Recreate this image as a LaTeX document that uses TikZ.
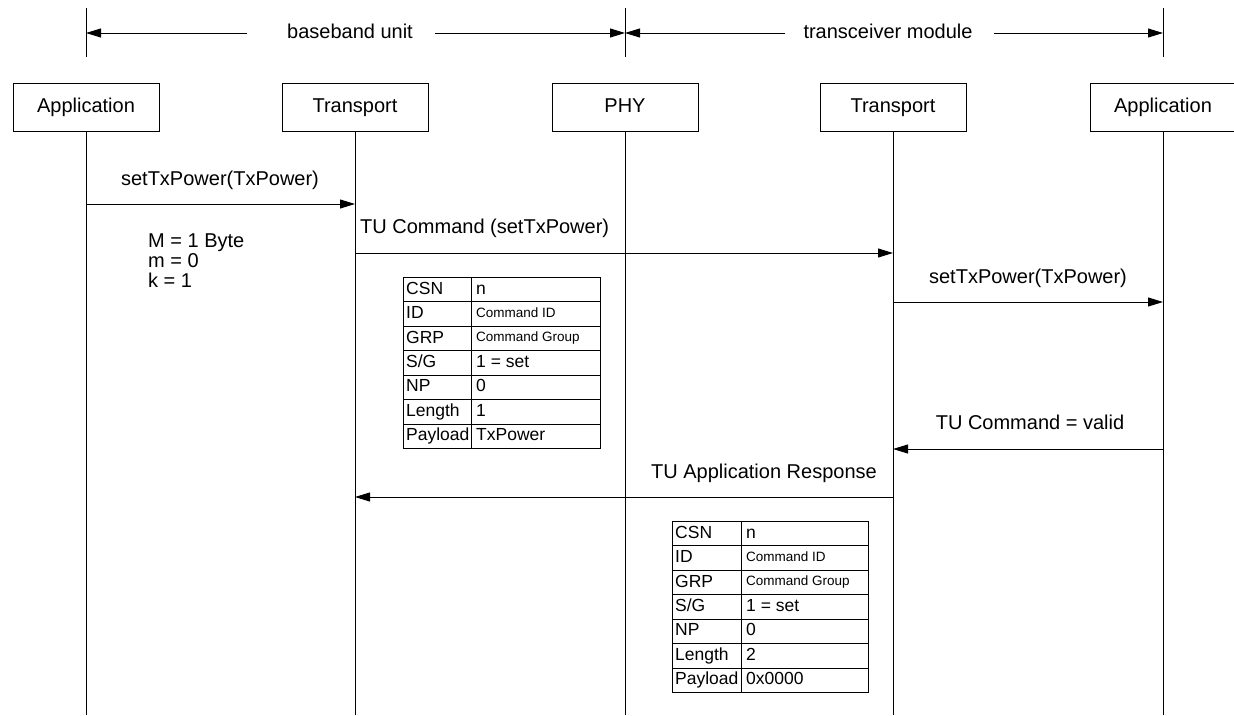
\documentclass[tikz,border=0pt]{standalone}
\usepackage{fontspec}
\setmainfont{Liberation Sans}
\usetikzlibrary{arrows.meta}
\newcommand\sgfield{S/G}
\begin{document}
\begin{tikzpicture}[x=1pt,y=-1pt,
  every node/.style={font=\fontsize{20}{24}\selectfont},
  lane/.style={draw, line width=1pt, minimum width=146pt, minimum height=48pt, inner sep=0pt,
    text height=14.5pt, text depth=4pt},
  life/.style={line width=1pt},
  msg/.style={line width=1pt, -{Triangle[length=15pt,width=9pt]}},
  tick/.style={line width=1pt},
  lbl/.style={inner sep=0pt, text height=14.5pt, text depth=4pt},
  cellA/.style={draw, line width=0.9pt, anchor=north west, minimum height=24.43pt, inner sep=0pt},
  celltxt/.style={anchor=west, inner sep=0pt},
  tbig/.style={font=\fontsize{17.5}{20}\selectfont, text height=12.6pt, text depth=3.6pt},
  tsmall/.style={font=\fontsize{13.5}{16}\selectfont, text height=9.7pt, text depth=2.8pt}
]
\useasboundingbox (0,0) rectangle (1234,715);

% domain spans along the top
\coordinate (tA1) at (86,8);    \coordinate (tA2) at (86,57);
\coordinate (tB1) at (625,8);   \coordinate (tB2) at (625,57);
\coordinate (tC1) at (1163,8);  \coordinate (tC2) at (1163,57);
\draw[tick] (tA1) -- (tA2);
\draw[tick] (tB1) -- (tB2);
\draw[tick] (tC1) -- (tC2);
\coordinate (sA) at (86,33);
\coordinate (sB) at (625,33);
\coordinate (sC) at (1163,33);
\node[lbl] (bbu) at (350,33) {baseband unit};
\node[lbl] (trm) at (888,33) {transceiver module};
\draw[msg] ([xshift=-40pt]bbu.west) -- (sA);
\draw[msg] ([xshift=22pt]bbu.east) -- (sB);
\draw[msg] ([xshift=-18pt]trm.west) -- (sB);
\draw[msg] ([xshift=21pt]trm.east) -- (sC);

% participants
\node[lane] (appL) at (86,107)   {Application};
\node[lane] (trL)  at (355,107)  {Transport};
\node[lane] (phy)  at (625,107)  {PHY};
\node[lane] (trR)  at (893,107)  {Transport};
\node[lane] (appR) at (1163,107) {Application};

% lifelines
\foreach \n in {appL,trL,phy,trR,appR}{
  \coordinate (\n end) at (\n |- 0,715);
  \draw[life] (\n.south) -- (\n end);
}

% messages
\draw[msg] (appL |- 0,204) -- (trL |- 0,204);
\node[lbl] (m1) at (220,180) {setTxPower(TxPower)};

\draw[msg] (trL |- 0,253) -- (trR |- 0,253);
\node[lbl, anchor=west] (m2) at (360,228) {TU Command (setTxPower)};

\node[inner sep=0pt, anchor=north west, align=left, font=\fontsize{20}{20}\selectfont] (par) at (148,234)
  {M = 1 Byte\\m = 0\\k = 1};

\draw[msg] (trR |- 0,302) -- (appR |- 0,302);
\node[lbl] (m3) at (1028,278) {setTxPower(TxPower)};

\draw[msg] (appR |- 0,449) -- (trR |- 0,449);
\node[lbl] (m4) at (1030,424) {TU Command = valid};

\draw[msg] (trR |- 0,497) -- (trL |- 0,497);
\node[lbl, anchor=east] (m5) at (877,473) {TU Application Response};

% command frame sent to the transceiver
\foreach \f/\v/\s [count=\i from 0] in {CSN/n/tbig, ID/Command ID/tsmall, GRP/Command Group/tsmall,
    \sgfield/1 = set/tbig, NP/0/tbig, Length/1/tbig, Payload/TxPower/tbig}{
  \node[cellA, minimum width=68pt] (fa\i) at (403,277+24.43*\i) {};
  \node[cellA, minimum width=129pt] (fb\i) at (471,277+24.43*\i) {};
  \node[celltxt, tbig] at ([xshift=3pt]fa\i.west) {\f};
  \node[celltxt, \s] at ([xshift=5pt]fb\i.west) {\v};
}

% response frame returned to the baseband unit
\foreach \f/\v/\s [count=\i from 0] in {CSN/n/tbig, ID/Command ID/tsmall, GRP/Command Group/tsmall,
    \sgfield/1 = set/tbig, NP/0/tbig, Length/2/tbig, Payload/0x0000/tbig}{
  \node[cellA, minimum width=69pt] (ga\i) at (672,521+24.43*\i) {};
  \node[cellA, minimum width=127pt] (gb\i) at (741,521+24.43*\i) {};
  \node[celltxt, tbig] at ([xshift=3pt]ga\i.west) {\f};
  \node[celltxt, \s] at ([xshift=5pt]gb\i.west) {\v};
}
\end{tikzpicture}
\end{document}
